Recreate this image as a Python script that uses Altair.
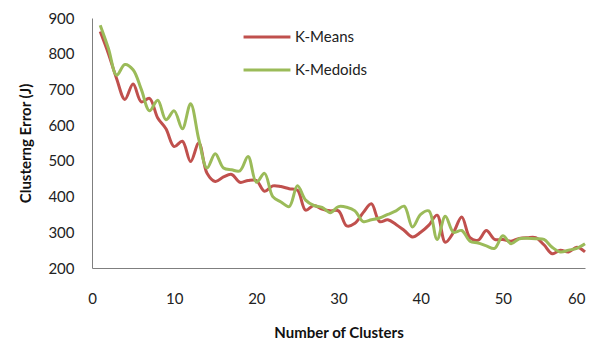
import altair as alt
import pandas as pd

clusters = list(range(1, 61))
kmeans = [862, 800, 730, 672, 715, 665, 675, 620, 590, 540, 555, 498, 550, 465, 442,
          455, 462, 440, 445, 445, 415, 430, 428, 422, 418, 362, 375, 365, 360, 360,
          318, 325, 355, 380, 330, 335, 322, 305, 287, 300, 320, 348, 272, 300, 343,
          285, 278, 305, 280, 280, 275, 283, 285, 285, 265, 240, 250, 245, 258, 245]
kmedoids = [880, 815, 740, 770, 755, 700, 640, 670, 615, 640, 590, 660, 560, 480, 520,
            480, 475, 472, 512, 440, 465, 400, 385, 372, 430, 390, 375, 370, 355, 372,
            370, 360, 330, 335, 340, 350, 360, 373, 315, 350, 360, 280, 345, 300, 305,
            275, 270, 262, 255, 290, 268, 282, 283, 282, 280, 258, 245, 250, 255, 268]
series = ["K-Means", "K-Medoids"]
colors = ["#C0504D", "#9BBB59"]
x_ticks = [0, 10, 20, 30, 40, 50, 60]
y_ticks = [200, 300, 400, 500, 600, 700, 800, 900]

rows = []
for k, a, b in zip(clusters, kmeans, kmedoids):
    rows.append({"k": k, "err": a, "s": series[0]})
    rows.append({"k": k, "err": b, "s": series[1]})
df = pd.DataFrame(rows)

FONT = "Lato"

chart = alt.Chart(df).mark_line(strokeWidth=3, interpolate="catmull-rom").encode(
    x=alt.X("k:Q", scale=alt.Scale(domain=[0, 60], nice=False),
            axis=alt.Axis(title="Number of Clusters", values=x_ticks, grid=False,
                          ticks=False, labelFlush=False, labelPadding=23,
                          labelAlign={"condition": {"test": "datum.value === 60",
                                                    "value": "right"},
                                      "value": "center"},
                          titlePadding=19)),
    y=alt.Y("err:Q", scale=alt.Scale(domain=[200, 900], nice=False),
            axis=alt.Axis(title="Clusterng Error (J)", values=y_ticks, grid=False,
                          ticks=False, labelFlush=False, labelPadding=18,
                          titlePadding=14)),
    color=alt.Color("s:N", scale=alt.Scale(domain=series, range=colors),
                    legend=alt.Legend(title=None, orient="none", legendX=150, legendY=-6,
                                      symbolType="stroke", symbolSize=2200,
                                      symbolStrokeWidth=3, labelFontSize=15,
                                      labelFont=FONT, labelColor="#222",
                                      labelOffset=3, rowPadding=-5)),
).properties(
    width=493, height=250,
    autosize=alt.AutoSizeParams(type="none"),
    padding={"left": 84, "top": 10, "right": 2, "bottom": 72},
).configure_view(stroke=None).configure_axis(
    domainColor="#7f7f7f", domainWidth=1, labelFont=FONT, labelFontSize=15,
    labelColor="#222", titleFont=FONT, titleFontSize=15, titleFontWeight="bold",
    titleColor="#111",
)

chart.save("out.html", embed_options={"renderer": "svg", "actions": False})
